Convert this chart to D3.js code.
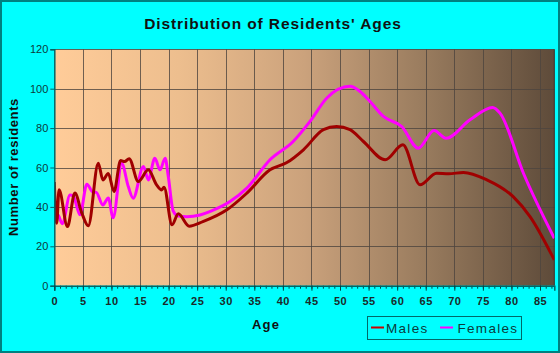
<!DOCTYPE html>
<html><head><meta charset="utf-8">
<script src="https://cdn.jsdelivr.net/npm/d3@7"></script>
<style>html,body{margin:0;padding:0;background:#00FFFF;}#wrap{position:relative;width:560px;height:353px;}svg{display:block;position:absolute;left:0;top:0;}#legendBox{position:absolute;left:367px;top:316px;width:153px;height:22px;border:1px solid #006868;box-sizing:content-box;}</style>
</head><body>
<div id="wrap"><svg id="chart" width="560" height="353"></svg><div id="legendBox"></div></div>
<script>
const maleAges = [0,0.42,0.83,2.3,3.6,4.8,5.95,7.7,8.5,9.45,10.45,11.6,12.3,13.1,14.7,16.45,17.9,18.8,19.2,20.6,21.7,23.6,26,30.2,33.7,37.75,40.7,43.6,47.1,49.4,51.75,54.1,57.9,61,64,66.9,69,71.6,75.7,80.3,83.25,87.5];
const maleValues = [52.6,31.7,48.7,30,47,37,30.4,62.2,53.7,57,47.8,63.5,63,64.5,52.9,58.8,51.2,48.6,50,30.9,36.5,30.2,32.5,38.5,47,58.8,62.5,69,79.2,80.8,79.2,73.2,63.9,71.5,51.2,57.1,56.8,57.5,53.7,45.2,35.1,13.1];
const femaleAges = [0,0.6,1.4,2.75,3.3,4.5,5.7,6.8,7.3,8.5,9.45,10.3,11.8,12.95,13.8,15.6,16.45,17.6,18.5,19.4,19.95,20.8,21.6,23.2,25.5,27.2,30.75,33.7,37.75,41.8,44.75,47.7,51.75,53.5,55.25,57.6,60.8,63.7,66.45,68.55,72.75,76.7,78,82.1,87.5];
const femaleValues = [33,36,31.5,46,45.5,36,51.5,47.5,47.5,41,44.5,34.5,62,50.3,44.4,60.5,53.7,64.7,58.8,64.7,55.4,38,35.5,35,35.9,37.6,42.7,49.5,63.9,73.2,83.4,95.3,101.2,98.6,93.5,85.9,80.8,69.8,78.8,74.9,84.2,90.5,87.6,57.1,24.1];
const xTicks = [0,5,10,15,20,25,30,35,40,45,50,55,60,65,70,75,80,85];
const yTicks = [0,20,40,60,80,100,120];
const seriesNames = ["Males","Females"];

const svg = d3.select("#chart");
const W = 560, H = 353;
const L = 54.3, R = 554.3, T = 49.3, B = 285.7;
const x = d3.scaleLinear().domain([0,87.5]).range([L,R]);
const y = d3.scaleLinear().domain([0,120]).range([B,T]);

svg.append("rect").attr("x",0).attr("y",0).attr("width",W).attr("height",H).attr("fill","#00FFFF");
svg.append("rect").attr("x",1).attr("y",1).attr("width",W-2).attr("height",H-2).attr("fill","none").attr("stroke","#008080").attr("stroke-width",2);

const defs = svg.append("defs");
const grad = defs.append("linearGradient").attr("id","bg").attr("x1","0").attr("x2","1").attr("y1","0").attr("y2","0");
[[0,"#FFCC99"],[0.25,"#EDBE8E"],[0.5,"#CBA27C"],[0.75,"#977A5D"],[1,"#5E4B3A"]].forEach(s=>grad.append("stop").attr("offset",s[0]).attr("stop-color",s[1]));
defs.append("clipPath").attr("id","clip").append("rect").attr("x",L).attr("y",T-2).attr("width",R-L).attr("height",B-T+2);

svg.append("rect").attr("x",L).attr("y",T).attr("width",R-L).attr("height",B-T).attr("fill","url(#bg)");

// grid
const g = svg.append("g");
g.selectAll(".vg").data(xTicks.filter(d=>d>0)).join("line")
  .attr("x1",d=>Math.round(x(d))+0.5).attr("x2",d=>Math.round(x(d))+0.5).attr("y1",T).attr("y2",B)
  .attr("stroke","#4e453e").attr("stroke-opacity",0.8).attr("stroke-width",1);
g.selectAll(".hg").data(yTicks.filter(d=>d>0)).join("line")
  .attr("x1",L).attr("x2",R).attr("y1",d=>Math.round(y(d))+0.5).attr("y2",d=>Math.round(y(d))+0.5)
  .attr("stroke","#4e453e").attr("stroke-opacity",0.8).attr("stroke-width",1);
svg.append("line").attr("x1",R).attr("x2",R).attr("y1",T).attr("y2",B).attr("stroke","#3a3028").attr("stroke-width",1);

// lines
const line = d3.line().x(d=>x(d[0])).y(d=>y(d[1])).curve(d3.curveMonotoneX);
const plot = svg.append("g").attr("clip-path","url(#clip)");
plot.append("path").datum(femaleAges.map((a,i)=>[a,femaleValues[i]])).attr("d",line)
  .attr("fill","none").attr("stroke","#FF00FF").attr("stroke-width",3).attr("stroke-linejoin","round");
plot.append("path").datum(maleAges.map((a,i)=>[a,maleValues[i]])).attr("d",line)
  .attr("fill","none").attr("stroke","#A00000").attr("stroke-width",3).attr("stroke-linejoin","round");

// axes
const font = "Liberation Sans, Arial, sans-serif";
const yAxis = svg.append("g").attr("transform",`translate(${L},0)`)
  .call(d3.axisLeft(y).tickValues(yTicks).tickSize(4).tickPadding(2));
yAxis.select(".domain").attr("stroke","#006666").attr("stroke-width",1.5);
yAxis.selectAll(".tick line").attr("stroke","#006666");
yAxis.selectAll("text").attr("font-family",font).attr("font-size",11).attr("fill","#0d3a3a");

const xAxisMinor = svg.append("g").attr("transform",`translate(0,${B})`)
  .call(d3.axisBottom(x).tickValues(d3.range(0,88,1)).tickSize(3).tickFormat(""));
xAxisMinor.select(".domain").remove();
xAxisMinor.selectAll(".tick line").attr("stroke","#004444");
const xAxis = svg.append("g").attr("transform",`translate(0,${B})`)
  .call(d3.axisBottom(x).tickValues(xTicks).tickSize(5).tickPadding(7));
xAxis.select(".domain").attr("stroke","#006666").attr("stroke-width",1.5);
xAxis.selectAll(".tick line").attr("stroke","#004444");
xAxis.selectAll("text").attr("font-family",font).attr("font-size",11).attr("font-weight","bold").attr("fill","#1a2a2a").attr("letter-spacing","0.5");

svg.append("text").attr("x",273).attr("y",29).attr("text-anchor","middle")
  .attr("font-family",font).attr("font-size",15.5).attr("font-weight","bold").attr("letter-spacing","0.9").attr("fill","#111")
  .text("Distribution of Residents' Ages");
svg.append("text").attr("transform","translate(18,167) rotate(-90)").attr("text-anchor","middle")
  .attr("font-family",font).attr("font-size",13).attr("font-weight","bold").attr("letter-spacing","0.6").attr("fill","#111")
  .text("Number of residents");
svg.append("text").attr("x",266).attr("y",329).attr("text-anchor","middle")
  .attr("font-family",font).attr("font-size",13).attr("font-weight","bold").attr("letter-spacing","1.2").attr("fill","#111")
  .text("Age");

// legend
const lg = svg.append("g");
lg.append("rect").attr("x",367.5).attr("y",316.5).attr("width",154).attr("height",23)
  .attr("fill","none").attr("stroke","#006868").attr("stroke-width",1);
const legendItems = [{name:seriesNames[0],color:"#CC0000",sx:371,tx:386},{name:seriesNames[1],color:"#FF00FF",sx:440,tx:457.5}];
legendItems.forEach(it=>{
  lg.append("rect").attr("x",it.sx).attr("y",326.5).attr("width",13).attr("height",2).attr("fill",it.color);
  lg.append("text").attr("x",it.tx).attr("y",333).attr("font-family",font).attr("font-size",13.5).attr("letter-spacing","1.3").attr("fill","#0b3b3b").text(it.name);
});
</script>
</body></html>
